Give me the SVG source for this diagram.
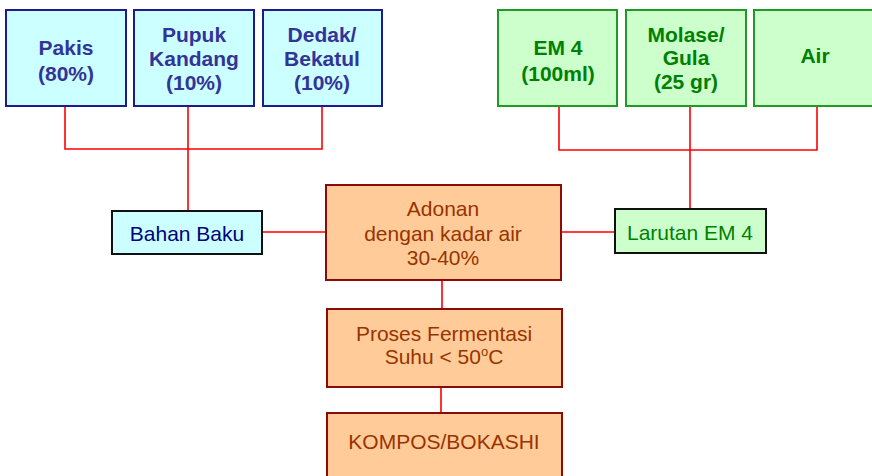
<svg xmlns="http://www.w3.org/2000/svg" width="872" height="476" viewBox="0 0 872 476">
<style>
text{font-family:"Liberation Sans",Arial,sans-serif;font-size:21px;text-anchor:middle}
.bluebox{fill:#CCFFFF;stroke:#1C1C8C;stroke-width:2}
.bluet{fill:#333399;font-weight:bold}
.greenbox{fill:#CCFFCC;stroke:#229922;stroke-width:2}
.greent{fill:#008000;font-weight:bold}
.midbox{stroke:#111;stroke-width:2}
.orbox{fill:#FFCC99;stroke:#8B0A0A;stroke-width:2}
.ort{fill:#993300}
.conn{stroke:#FF0000;stroke-width:1.6;fill:none}
</style>
<g id="connectors">
<path class="conn" d="M65,106V149H322V106M188,106V211"/>
<path class="conn" d="M559,106V150H817V106M690,106V209"/>
<path class="conn" d="M262,232H326M561,232H615"/>
<path class="conn" d="M442,280V309M441,387V413"/>
</g>
<g id="pakis"><rect class="bluebox" x="6" y="10" width="120" height="96"/><text class="bluet" x="66" y="55">Pakis</text><text class="bluet" x="66" y="81">(80%)</text></g>
<g id="pupuk"><rect class="bluebox" x="134" y="10" width="120" height="96"/><text class="bluet" x="194" y="42">Pupuk</text><text class="bluet" x="194" y="66">Kandang</text><text class="bluet" x="194" y="90">(10%)</text></g>
<g id="dedak"><rect class="bluebox" x="263" y="10" width="119" height="96"/><text class="bluet" x="322" y="42">Dedak/</text><text class="bluet" x="322" y="66">Bekatul</text><text class="bluet" x="322" y="90">(10%)</text></g>
<g id="em4"><rect class="greenbox" x="498" y="10" width="119" height="96"/><text class="greent" x="558" y="55">EM 4</text><text class="greent" x="558" y="81">(100ml)</text></g>
<g id="molase"><rect class="greenbox" x="626" y="10" width="120" height="96"/><text class="greent" x="686" y="42">Molase/</text><text class="greent" x="686" y="65">Gula</text><text class="greent" x="686" y="89">(25 gr)</text></g>
<g id="air"><rect class="greenbox" x="754" y="10" width="122" height="96"/><text class="greent" x="815" y="63">Air</text></g>
<g id="bahan"><rect class="midbox" fill="#CCFFFF" x="112" y="211" width="150" height="43"/><text x="187" y="241" fill="#000080">Bahan Baku</text></g>
<g id="larutan"><rect class="midbox" fill="#CCFFCC" x="615" y="209" width="151" height="44"/><text x="690" y="240" fill="#008000">Larutan EM 4</text></g>
<g id="adonan"><rect class="orbox" x="326" y="185" width="235" height="95"/><text class="ort" x="443" y="216">Adonan</text><text class="ort" x="443" y="241">dengan kadar air</text><text class="ort" x="443" y="265">30-40%</text></g>
<g id="proses"><rect class="orbox" x="327" y="309" width="235" height="78"/><text class="ort" x="444" y="341">Proses Fermentasi</text><text class="ort" x="444" y="364">Suhu &lt; 50<tspan dy="-8" font-size="13">o</tspan><tspan dy="8">C</tspan></text></g>
<g id="kompos"><rect class="orbox" x="327" y="413" width="235" height="70"/><text class="ort" x="444" y="449">KOMPOS/BOKASHI</text></g>
</svg>
